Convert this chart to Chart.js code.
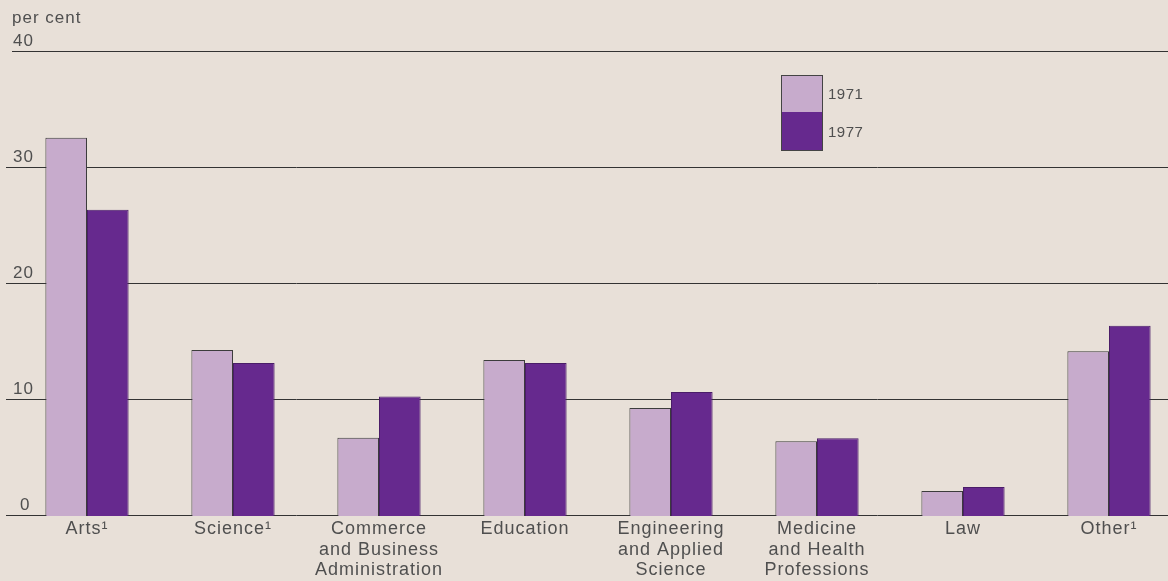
<!DOCTYPE html>
<html>
<head>
<meta charset="utf-8">
<script src="https://cdn.jsdelivr.net/npm/chart.js@4"></script>
<style>
  html, body { margin: 0; padding: 0; background: #e8e0d8; overflow: hidden; }
  #wrap { position: relative; width: 1182px; height: 581px; }
</style>
</head>
<body>
<div id="wrap"><canvas id="chart"></canvas></div>
<script>
// --- Data ---
const categories = [
  ["Arts\u00B9"],
  ["Science\u00B9"],
  ["Commerce", "and Business", "Administration"],
  ["Education"],
  ["Engineering", "and Applied", "Science"],
  ["Medicine", "and Health", "Professions"],
  ["Law"],
  ["Other\u00B9"]
];
const seriesNames = ["1971", "1977"];
const values1971 = [32.6, 14.3, 6.75, 13.45, 9.3, 6.45, 2.15, 14.2];
const values1977 = [26.4, 13.2, 10.3, 13.2, 10.7, 6.7, 2.5, 16.4];
const yTicks = [0, 10, 20, 30, 40];

const lightColor = "#c7abcc";
const darkColor = "#66298e";
const textColor = "#4f4f4f";
const fontFamily = "'Liberation Sans', Arial, sans-serif";

// --- Gridlines, tick labels and legend drawn by hand ---
const gridPlugin = {
  id: "gridPlugin",
  beforeDraw(chart) {
    chart.ctx.letterSpacing = "1px"; // wide photo-type spacing for category labels
  },
  beforeDatasetsDraw(chart) {
    const ctx = chart.ctx;
    const y = chart.scales.y;
    ctx.save();
    ctx.strokeStyle = "#333";
    ctx.lineWidth = 1;
    yTicks.forEach(v => {
      const py = Math.round(y.getPixelForValue(v)) - 0.5;
      ctx.beginPath();
      ctx.moveTo(v === 40 ? 12 : 6, py);
      ctx.lineTo(1168, py);
      ctx.stroke();
    });
    ctx.fillStyle = textColor;
    ctx.font = "17px " + fontFamily;
    ctx.letterSpacing = "1px";
    ctx.textBaseline = "alphabetic";
    ctx.textAlign = "left";
    yTicks.forEach(v => {
      const py = y.getPixelForValue(v);
      ctx.fillText(String(v), v === 0 ? 20 : 13, py - 6);
    });
    ctx.fillText("per cent", 12, 23);
    ctx.restore();
  },
  afterDatasetsDraw(chart) {
    // legend: one outlined box split in two
    const ctx = chart.ctx;
    const ds = chart.data.datasets;
    const x = 781, top = 75, w = 41, h = 37;
    ctx.save();
    ctx.fillStyle = ds[0].backgroundColor;
    ctx.fillRect(x, top, w, h);
    ctx.fillStyle = ds[1].backgroundColor;
    ctx.fillRect(x, top + h, w, h + 1);
    ctx.strokeStyle = "#444";
    ctx.lineWidth = 1;
    ctx.strokeRect(x + 0.5, top + 0.5, w, h * 2 + 1);
    ctx.fillStyle = textColor;
    ctx.font = "15px " + fontFamily;
    ctx.letterSpacing = "0.5px";
    ctx.textBaseline = "alphabetic";
    ctx.textAlign = "left";
    ctx.fillText(ds[0].label, x + 47, top + 24);
    ctx.fillText(ds[1].label, x + 47, top + h + 25);
    ctx.restore();
  }
};

new Chart(document.getElementById("chart"), {
  type: "bar",
  data: {
    labels: categories,
    datasets: [
      { label: seriesNames[0], data: values1971, backgroundColor: lightColor, borderColor: "#3c3c3c", borderWidth: 1 },
      { label: seriesNames[1], data: values1977, backgroundColor: darkColor, borderColor: "#4a1d68", borderWidth: 1 }
    ]
  },
  options: {
    responsive: true,
    maintainAspectRatio: false,
    animation: false,
    layout: { padding: { left: 14, right: 0, top: 52, bottom: 0 } },
    plugins: { legend: { display: false }, tooltip: { enabled: false } },
    datasets: { bar: { categoryPercentage: 0.57, barPercentage: 1 } },
    scales: {
      x: {
        grid: { display: false, drawTicks: false },
        border: { display: false },
        ticks: {
          color: textColor,
          font: { family: fontFamily, size: 18, lineHeight: 1.14 },
          padding: 3,
          maxRotation: 0,
          autoSkip: false
        },
        afterFit(s) { s.height = 65; }
      },
      y: {
        min: 0,
        max: 40,
        ticks: { display: false, stepSize: 10 },
        grid: { display: false, drawTicks: false },
        border: { display: false },
        afterFit(s) { s.width = 0; }
      }
    }
  },
  plugins: [gridPlugin]
});
</script>
</body>
</html>
